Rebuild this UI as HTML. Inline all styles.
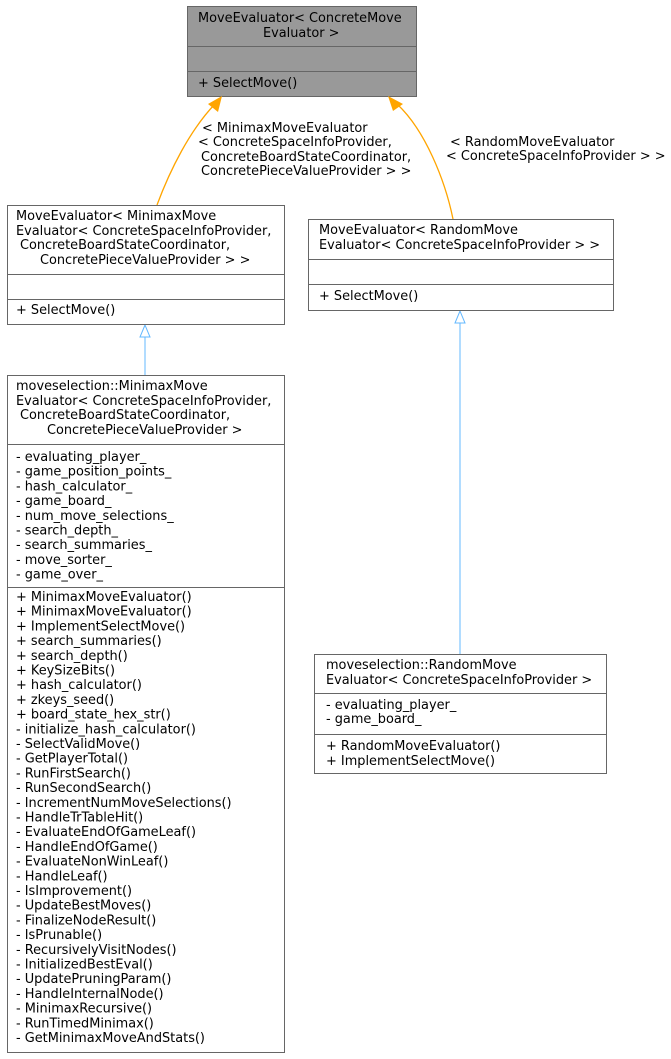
<!DOCTYPE html>
<html><head><style>
html,body{margin:0;padding:0;background:#fff;}
svg{display:block;}
text{font-family:"DejaVu Sans","Liberation Sans",sans-serif;font-size:12.9px;fill:#000;}
</style></head><body>
<svg width="671" height="1059" viewBox="0 0 671 1059" xmlns="http://www.w3.org/2000/svg">
<rect x="187.5" y="6.5" width="229" height="90" fill="#999" stroke="#666"/>
<line x1="187" y1="46.5" x2="416" y2="46.5" stroke="#666"/>
<line x1="187" y1="71.5" x2="416" y2="71.5" stroke="#666"/>
<text x="198" y="22">MoveEvaluator&lt; ConcreteMove</text>
<text x="263" y="37">Evaluator &gt;</text>
<text x="198" y="87">+ SelectMove()</text>

<path d="M157,205 C170,170 190,130 215,104" fill="none" stroke="orange" stroke-width="1.3"/>
<polygon points="222,96 208,104 218,112" fill="orange"/>
<path d="M453,219 C445,180 425,130 397,104" fill="none" stroke="orange" stroke-width="1.3"/>
<polygon points="388,96 393,111 403,104" fill="orange"/>
<line x1="145" y1="335" x2="145" y2="375" stroke="#63b8ff"/>
<polygon points="145,325 140,337 150,337" fill="#fff" stroke="#63b8ff"/>
<line x1="460" y1="321" x2="460" y2="654" stroke="#63b8ff"/>
<polygon points="460,311 455,323 465,323" fill="#fff" stroke="#63b8ff"/>

<text x="202" y="132">&lt; MinimaxMoveEvaluator</text>
<text x="198" y="146">&lt; ConcreteSpaceInfoProvider,</text>
<text x="201" y="161">ConcreteBoardStateCoordinator,</text>
<text x="201" y="175">ConcretePieceValueProvider &gt; &gt;</text>
<text x="450" y="146">&lt; RandomMoveEvaluator</text>
<text x="446" y="160">&lt; ConcreteSpaceInfoProvider &gt; &gt;</text>

<rect x="7.5" y="205.5" width="277" height="119" fill="#fff" stroke="#666"/>
<line x1="7" y1="274.5" x2="284" y2="274.5" stroke="#666"/>
<line x1="7" y1="299.5" x2="284" y2="299.5" stroke="#666"/>
<text x="16" y="220">MoveEvaluator&lt; MinimaxMove</text>
<text x="16" y="235">Evaluator&lt; ConcreteSpaceInfoProvider,</text>
<text x="20" y="249">ConcreteBoardStateCoordinator,</text>
<text x="40" y="264">ConcretePieceValueProvider &gt; &gt;</text>
<text x="16" y="314">+ SelectMove()</text>

<rect x="308.5" y="219.5" width="305" height="91" fill="#fff" stroke="#666"/>
<line x1="308" y1="259.5" x2="613" y2="259.5" stroke="#666"/>
<line x1="308" y1="284.5" x2="613" y2="284.5" stroke="#666"/>
<text x="319" y="234">MoveEvaluator&lt; RandomMove</text>
<text x="319" y="249">Evaluator&lt; ConcreteSpaceInfoProvider &gt; &gt;</text>
<text x="319" y="300">+ SelectMove()</text>

<rect x="7.5" y="375.5" width="277" height="677" fill="#fff" stroke="#666"/>
<line x1="7" y1="444.5" x2="284" y2="444.5" stroke="#666"/>
<line x1="7" y1="587.5" x2="284" y2="587.5" stroke="#666"/>
<text x="16" y="390">moveselection::MinimaxMove</text>
<text x="16" y="405">Evaluator&lt; ConcreteSpaceInfoProvider,</text>
<text x="20" y="419">ConcreteBoardStateCoordinator,</text>
<text x="47" y="434">ConcretePieceValueProvider &gt;</text>
<g>
<text x="16" y="461">- evaluating_player_</text>
<text x="16" y="475.7">- game_position_points_</text>
<text x="16" y="490.4">- hash_calculator_</text>
<text x="16" y="505.1">- game_board_</text>
<text x="16" y="519.8">- num_move_selections_</text>
<text x="16" y="534.5">- search_depth_</text>
<text x="16" y="549.2">- search_summaries_</text>
<text x="16" y="563.9">- move_sorter_</text>
<text x="16" y="578.6">- game_over_</text>
</g>
<g>
<text x="16" y="601">+ MinimaxMoveEvaluator()</text>
<text x="16" y="615.7">+ MinimaxMoveEvaluator()</text>
<text x="16" y="630.4">+ ImplementSelectMove()</text>
<text x="16" y="645.1">+ search_summaries()</text>
<text x="16" y="659.8">+ search_depth()</text>
<text x="16" y="674.5">+ KeySizeBits()</text>
<text x="16" y="689.2">+ hash_calculator()</text>
<text x="16" y="703.9">+ zkeys_seed()</text>
<text x="16" y="718.6">+ board_state_hex_str()</text>
<text x="16" y="733.3">- initialize_hash_calculator()</text>
<text x="16" y="748">- SelectValidMove()</text>
<text x="16" y="762.7">- GetPlayerTotal()</text>
<text x="16" y="777.4">- RunFirstSearch()</text>
<text x="16" y="792.1">- RunSecondSearch()</text>
<text x="16" y="806.8">- IncrementNumMoveSelections()</text>
<text x="16" y="821.5">- HandleTrTableHit()</text>
<text x="16" y="836.2">- EvaluateEndOfGameLeaf()</text>
<text x="16" y="850.9">- HandleEndOfGame()</text>
<text x="16" y="865.6">- EvaluateNonWinLeaf()</text>
<text x="16" y="880.3">- HandleLeaf()</text>
<text x="16" y="895">- IsImprovement()</text>
<text x="16" y="909.7">- UpdateBestMoves()</text>
<text x="16" y="924.4">- FinalizeNodeResult()</text>
<text x="16" y="939.1">- IsPrunable()</text>
<text x="16" y="953.8">- RecursivelyVisitNodes()</text>
<text x="16" y="968.5">- InitializedBestEval()</text>
<text x="16" y="983.2">- UpdatePruningParam()</text>
<text x="16" y="997.9">- HandleInternalNode()</text>
<text x="16" y="1012.6">- MinimaxRecursive()</text>
<text x="16" y="1027.3">- RunTimedMinimax()</text>
<text x="16" y="1042">- GetMinimaxMoveAndStats()</text>
</g>

<rect x="314.5" y="654.5" width="292" height="119" fill="#fff" stroke="#666"/>
<line x1="314" y1="693.5" x2="606" y2="693.5" stroke="#666"/>
<line x1="314" y1="734.5" x2="606" y2="734.5" stroke="#666"/>
<text x="326" y="669">moveselection::RandomMove</text>
<text x="326" y="684">Evaluator&lt; ConcreteSpaceInfoProvider &gt;</text>
<text x="326" y="709">- evaluating_player_</text>
<text x="326" y="723">- game_board_</text>
<text x="326" y="750">+ RandomMoveEvaluator()</text>
<text x="326" y="765">+ ImplementSelectMove()</text>
</svg>
</body></html>
